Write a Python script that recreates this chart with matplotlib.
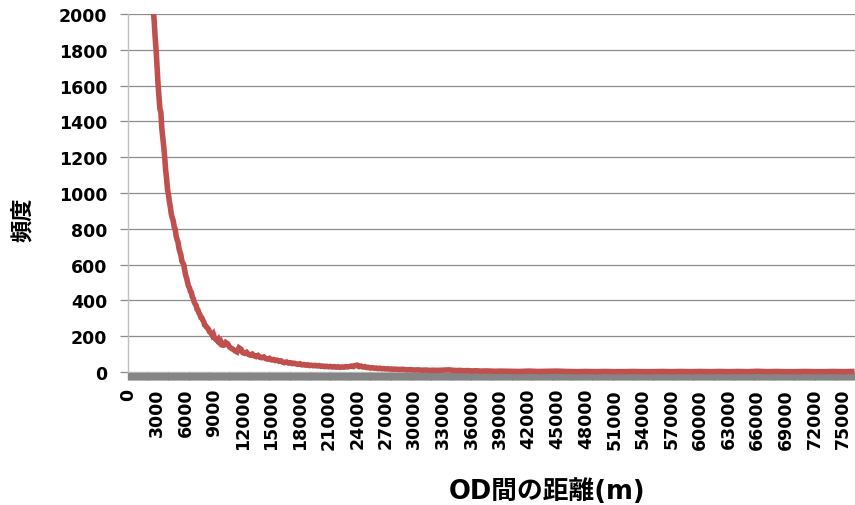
import numpy as np
import matplotlib
matplotlib.use("Agg")
import matplotlib.pyplot as plt
from matplotlib.patches import Rectangle

# OD distance (m) and trip frequency, near range (100 m bins)
near_dist = [
    2500, 2600, 2700, 2800, 2900, 3000, 3100, 3200, 3300, 3400,
    3500, 3600, 3700, 3800, 3900, 4000, 4100, 4200, 4300, 4400,
    4500, 4600, 4700, 4800, 4900, 5000, 5100, 5200, 5300, 5400,
    5500, 5600, 5700, 5800, 5900, 6000, 6100, 6200, 6300, 6400,
    6500, 6600, 6700, 6800, 6900, 7000, 7100, 7200, 7300, 7400,
    7500, 7600, 7700, 7800, 7900, 8000, 8100, 8200, 8300, 8400,
    8500, 8600, 8700, 8800, 8900, 9000, 9100, 9200, 9300, 9400,
    9500, 9600, 9700, 9800, 9900,
]
near_freq = [
    2150, 2020, 1960, 1870, 1800, 1700, 1610, 1540, 1470, 1450,
    1360, 1310, 1260, 1200, 1130, 1080, 1020, 990, 950, 920,
    880, 860, 845, 810, 800, 760, 740, 725, 690, 670,
    655, 620, 610, 600, 570, 540, 525, 500, 480, 470,
    450, 445, 420, 410, 390, 380, 372, 350, 345, 330,
    320, 305, 302, 290, 280, 262, 258, 250, 246, 238,
    225, 220, 216, 205, 212, 195, 188, 180, 176, 182,
    165, 160, 168, 155, 150,
]

# mid range (200 m bins)
mid_dist = [
    10000, 10200, 10400, 10600, 10800, 11000, 11200, 11400, 11600, 11800,
    12000, 12200, 12400, 12600, 12800, 13000, 13200, 13400, 13600, 13800,
    14000, 14200, 14400, 14600, 14800, 15000, 15200, 15400, 15600, 15800,
    16000, 16200, 16400, 16600, 16800, 17000, 17200, 17400, 17600, 17800,
    18000, 18200, 18400, 18600, 18800, 19000, 19200, 19400, 19600, 19800,
    20000, 20200, 20400, 20600, 20800, 21000, 21200, 21400, 21600, 21800,
    22000, 22200, 22400, 22600, 22800, 23000, 23200, 23400, 23600, 23800,
    24000, 24200, 24400, 24600, 24800, 25000, 25200, 25400, 25600, 25800,
    26000, 26200, 26400, 26600, 26800, 27000, 27200, 27400, 27600, 27800,
    28000,
]
mid_freq = [
    150, 165, 158, 140, 132, 126, 118, 112, 135, 128,
    108, 104, 110, 98, 94, 100, 90, 86, 92, 82,
    80, 84, 75, 72, 76, 68, 70, 64, 66, 60,
    62, 55, 52, 56, 50, 52, 47, 49, 45, 43,
    46, 40, 42, 38, 40, 36, 38, 35, 37, 34,
    36, 32, 33, 30, 32, 29, 31, 28, 30, 27,
    29, 26, 28, 27, 30, 28, 31, 33, 30, 36,
    38, 30, 33, 28, 30, 25, 26, 22, 24, 21,
    22, 19, 21, 18, 19, 17, 18, 16, 17, 15,
    16,
]

# far range
far_dist = [
    28400, 28800, 29200, 29600, 30000, 30400, 30800, 31200, 31600, 32000,
    32400, 32800, 33200, 33600, 34000, 34400, 34800, 35200, 35600, 36000,
    36500, 37000, 37500, 38000, 38500, 39000, 40000, 41000, 42000, 43000,
    44000, 45000, 46000, 47000, 48000, 49000, 50000, 51000, 52000, 53000,
    54000, 55000, 56000, 57000, 58000, 59000, 60000, 61000, 62000, 63000,
    64000, 65000, 66000, 67000, 68000, 69000, 70000, 71000, 72000, 73000,
    74000, 75000, 76200,
]
far_freq = [
    14, 15, 12, 13, 11, 12, 10, 11, 9, 10,
    9, 10, 11, 12, 10, 8, 9, 7, 8, 6,
    7, 5, 6, 5, 4, 5, 4, 3, 5, 3,
    4, 5, 3, 2, 3, 2, 3, 2, 2, 3,
    2, 2, 3, 2, 3, 2, 3, 2, 3, 2,
    3, 2, 4, 2, 3, 2, 2, 3, 2, 2,
    3, 2, 3,
]

dist_m = near_dist + mid_dist + far_dist
freq = near_freq + mid_freq + far_freq
assert len(dist_m) == len(freq)

xtick_vals = list(range(0, 75001, 3000))
ytick_vals = list(range(0, 2001, 200))

LINE_COLOR = "#C0504D"
GRID_COLOR = "#8C8C8C"
BAND_COLOR = "#858585"

fig = plt.figure(figsize=(8.55, 5.06), dpi=100)
W, H = 855, 506
left, right, top, bottom = 128, 855, 15, 373
ax = fig.add_axes([left / W, 1 - bottom / H, (right - left) / W, (bottom - top) / H])

line, = ax.plot(dist_m, freq, color=LINE_COLOR, linewidth=4.0,
                solid_joinstyle="miter", solid_capstyle="butt", zorder=3)
# keep the top edge clipped but let the line sit on the axis at the bottom
clip = Rectangle((0, -0.05), 1, 1.05, transform=ax.transAxes, visible=False)
ax.add_patch(clip)
line.set_clip_path(clip)

ax.set_xlim(-50, 76250)
ax.set_ylim(0, 2000)

ax.set_yticks(ytick_vals)
ax.grid(axis="y", color=GRID_COLOR, linewidth=0.9)
ax.set_axisbelow(True)

ax.set_xticks(xtick_vals)
ax.set_xticks(np.arange(0, 76300, 100), minor=True)
ax.set_xticklabels([str(v) for v in xtick_vals], rotation=90)

for s in ("top", "right", "bottom"):
    ax.spines[s].set_visible(False)
ax.spines["left"].set_color("#BFBFBF")
ax.spines["left"].set_linewidth(1.0)

ax.tick_params(axis="y", direction="out", length=6, width=0.9, color=GRID_COLOR, pad=9)
ax.tick_params(axis="x", which="minor", direction="out", length=5.5, width=1.0, color=BAND_COLOR)
ax.tick_params(axis="x", which="major", direction="out", length=5.5, width=1.0, color=BAND_COLOR, pad=6)

for lab in ax.get_xticklabels() + ax.get_yticklabels():
    lab.set_fontfamily("DejaVu Sans")
    lab.set_fontweight("bold")
    lab.set_fontsize(12.5)

fig.text(547 / W, 1 - 492 / H, "OD間の距離(m)", ha="center", va="center",
         fontsize=18.5, fontweight="bold", family=["DejaVu Sans", "Noto Sans CJK JP"])
fig.text(22 / W, 1 - 220 / H, "頻度", ha="center", va="center", rotation=90,
         fontsize=16, fontweight="bold", family=["Noto Sans CJK JP", "DejaVu Sans"])

fig.savefig("out.png", dpi=100)
